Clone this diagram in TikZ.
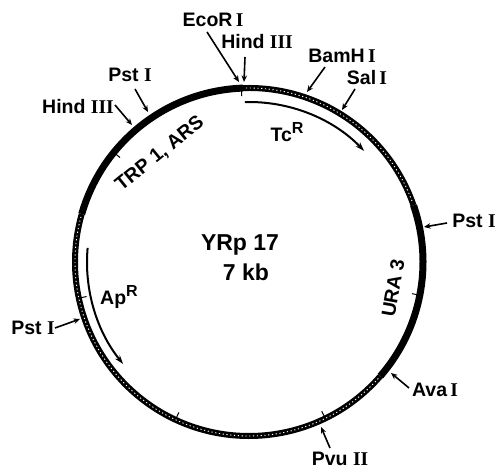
\documentclass[tikz,border=0pt]{standalone}
\usepackage{fontspec}
\setmainfont{Liberation Sans}
\newfontfamily\romfont{Liberation Serif}
\newcommand\romn[1]{{\romfont\bfseries #1}}
\newcommand\supR{\raisebox{0.42em}{\fontsize{16}{16}\selectfont R}}
\usetikzlibrary{arrows.meta,calc}
\begin{document}
\begin{tikzpicture}[x=1pt,y=1pt,
  lab/.style={font=\fontsize{19.5}{21}\selectfont\bfseries, inner sep=0pt},
  big/.style={font=\fontsize{23}{25}\selectfont\bfseries, inner sep=0pt},
  site/.style={line width=1.6pt, -{Stealth[length=6.5pt,width=5.5pt]}},
  solidseg/.style={line width=7pt},
  pbr/.style={line width=6pt},
  pbrdots/.style={white, line width=0.9pt, dash pattern=on 1.2pt off 2.6pt},
  gene/.style={line width=2pt, -{Stealth[length=9pt,width=6pt]}},
  tick/.style={line width=1pt}
]
\useasboundingbox (0,0) rectangle (497,470);
\coordinate (C) at (249,208);
% pBR322 portions
\draw[pbr] ($(C)+(92:174)$) arc[start angle=92,end angle=19,radius=174];
\draw[pbr] ($(C)+(-41:174)$) arc[start angle=-41,end angle=-196,radius=174];
\draw[pbrdots] ($(C)+(91:174)$) arc[start angle=91,end angle=20,radius=174];
\draw[pbrdots] ($(C)+(-42:174)$) arc[start angle=-42,end angle=-195,radius=174];
% yeast portions
\draw[solidseg] ($(C)+(92:174)$) arc[start angle=92,end angle=164,radius=174];
\draw[solidseg] ($(C)+(19:174)$) arc[start angle=19,end angle=-41,radius=174];
% small ticks
\foreach \a in {141,192,245,296,-11,92.5}{
  \draw[tick] ($(C)+(\a:172)$) -- ($(C)+(\a:166)$);
}
% genes
\draw[gene] ($(C)+(91.5:160)$) arc[start angle=91.5,end angle=44,radius=160];
\draw[gene] ($(C)+(175:162)$) arc[start angle=175,end angle=219,radius=162];
\node[lab] (tc) at (287,338) {Tc\supR};
\node[lab] (ap) at (119,173) {Ap\supR};
% region labels
\node[lab, rotate=39] (trp) at (160,316) {TRP 1, ARS};
\node[lab, rotate=80] (ura) at (393,182) {URA 3};
\node[big] (name) at (240,225) {YRp 17};
\node[big] (size) at (246,198) {7 kb};
% site labels
\node[lab] (eco) at (213,450) {EcoR\,\romn{I}};
\node[lab] (hindT) at (257,428) {Hind \romn{III}};
\node[lab] (bam) at (342,414) {BamH\,\romn{I}};
\node[lab] (sal) at (367,392) {Sal\,\romn{I}};
\node[lab] (pstTL) at (130,395) {Pst \romn{I}};
\node[lab] (hindL) at (78,363) {Hind \romn{III}};
\node[lab] (pstR) at (474,249) {Pst \romn{I}};
\node[lab] (ava) at (435,80) {Ava\,\romn{I}};
\node[lab] (pvu) at (340,11) {Pvu \romn{II}};
\node[lab] (pstLL) at (33,142) {Pst \romn{I}};
% arrow ends
\coordinate (ecoA) at (207,438);  \coordinate (ecoB) at (239,388);
\coordinate (hindTA) at (245,413); \coordinate (hindTB) at (244,388);
\coordinate (bamA) at (325,403);  \coordinate (bamB) at (307,378);
\coordinate (salA) at (355,381);  \coordinate (salB) at (342,360);
\coordinate (pstTLA) at (135,381); \coordinate (pstTLB) at (148,358);
\coordinate (hindLA) at (115,365); \coordinate (hindLB) at (132,345);
\coordinate (pstRA) at (447,247); \coordinate (pstRB) at (424,243);
\coordinate (avaA) at (409,82);   \coordinate (avaB) at (391,97);
\coordinate (pvuA) at (330,22);   \coordinate (pvuB) at (321,43);
\coordinate (pstLLA) at (55,142); \coordinate (pstLLB) at (80,151);
\foreach \s in {eco,hindT,bam,sal,pstTL,hindL,pstR,ava,pvu,pstLL}{
  \draw[site] (\s A) -- (\s B);
}
\end{tikzpicture}
\end{document}
